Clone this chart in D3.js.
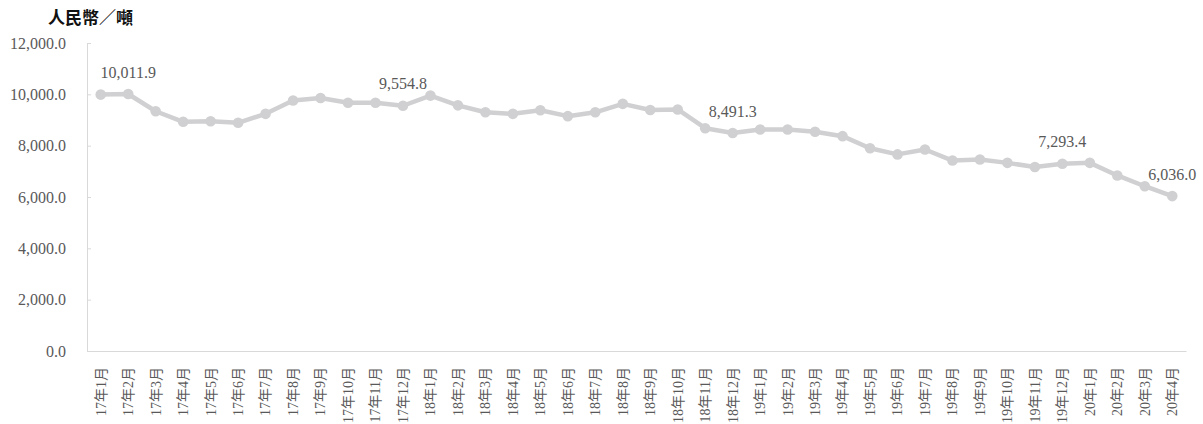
<!DOCTYPE html>
<html>
<head>
<meta charset="utf-8">
<script src="https://cdn.jsdelivr.net/npm/d3@7"></script>
<style>
  html, body { margin: 0; padding: 0; background: #fff; }
  svg { display: block; }
  text { font-family: "Liberation Serif", "Times New Roman", "Noto Sans CJK TC", serif; }
</style>
</head>
<body>
<svg id="chart" width="1203" height="424"></svg>
<script>
const categories = [
  "17年1月","17年2月","17年3月","17年4月","17年5月","17年6月","17年7月","17年8月","17年9月","17年10月","17年11月","17年12月",
  "18年1月","18年2月","18年3月","18年4月","18年5月","18年6月","18年7月","18年8月","18年9月","18年10月","18年11月","18年12月",
  "19年1月","19年2月","19年3月","19年4月","19年5月","19年6月","19年7月","19年8月","19年9月","19年10月","19年11月","19年12月",
  "20年1月","20年2月","20年3月","20年4月"
];
const prices = [
  9990, 10011.9, 9340, 8930, 8950, 8890, 9240, 9760, 9860, 9670, 9670, 9554.8,
  9950, 9570, 9300, 9240, 9380, 9150, 9300, 9630, 9390, 9410, 8680, 8491.3,
  8630, 8630, 8540, 8370, 7900, 7660, 7850, 7420, 7460, 7330, 7170, 7293.4,
  7330, 6840, 6420, 6036.0
];
const labelledMonths = ["17年2月", "17年12月", "18年12月", "19年12月", "20年4月"];
const yTicks = [0, 2000, 4000, 6000, 8000, 10000, 12000];
const unitTitle = "人民幣／噸";

const svg = d3.select("#chart");
const x = d3.scaleBand().domain(categories).range([87, 1186]).paddingInner(0).paddingOuter(0);
const y = d3.scaleLinear().domain([0, 12000]).range([351, 43]);
const fmt = d3.format(",.1f");
const axisColor = "#d9d9d9";
const textColor = "#595959";
const lineColor = "#d0d0d2";
const serif = "'Liberation Serif', 'Times New Roman', 'Noto Sans CJK TC', serif";

// Y axis
const yAxis = svg.append("g").attr("transform", "translate(87,0)")
  .call(d3.axisLeft(y).tickValues(yTicks).tickFormat(fmt).tickSizeInner(-4).tickSizeOuter(0).tickPadding(21));
yAxis.attr("font-family", null);
yAxis.select(".domain").attr("stroke", axisColor);
yAxis.selectAll(".tick line").attr("stroke", axisColor);
yAxis.selectAll(".tick text").attr("fill", textColor).style("font-size", "16px")
  .style("font-family", serif);

// X axis
const xAxis = svg.append("g").attr("transform", "translate(0,351)")
  .call(d3.axisBottom(x).tickSize(0).tickSizeOuter(0));
xAxis.attr("font-family", null);
xAxis.select(".domain").attr("stroke", axisColor);
xAxis.selectAll(".tick text")
  .attr("fill", textColor)
  .style("font-size", "14px")
  .style("font-family", serif)
  .attr("text-anchor", "end")
  .attr("transform", "rotate(-90)")
  .attr("x", -16)
  .attr("y", 0)
  .attr("dy", "0.35em");

// Title
svg.append("text")
  .attr("x", 48).attr("y", 24)
  .attr("fill", "#111")
  .style("font-size", "17px")
  .style("font-weight", "bold")
  .style("font-family", "'Noto Sans CJK TC', sans-serif")
  .text(unitTitle);

const data = categories.map((c, i) => ({ c, v: prices[i] }));
const cx = d => x(d.c) + x.bandwidth() / 2;

// Line
svg.append("path")
  .datum(data)
  .attr("fill", "none")
  .attr("stroke", lineColor)
  .attr("stroke-width", 4.5)
  .attr("stroke-linejoin", "round")
  .attr("d", d3.line().x(cx).y(d => y(d.v)));

// Markers
svg.append("g").selectAll("circle")
  .data(data).join("circle")
  .attr("cx", cx).attr("cy", d => y(d.v))
  .attr("r", 5.3)
  .attr("fill", lineColor);

// Data labels
svg.append("g").selectAll("text")
  .data(data.filter(d => labelledMonths.includes(d.c))).join("text")
  .attr("x", cx)
  .attr("y", d => y(d.v) - 16.5)
  .attr("text-anchor", "middle")
  .attr("fill", textColor)
  .style("font-size", "16px")
  .style("font-family", serif)
  .text(d => fmt(d.v));
</script>
</body>
</html>
